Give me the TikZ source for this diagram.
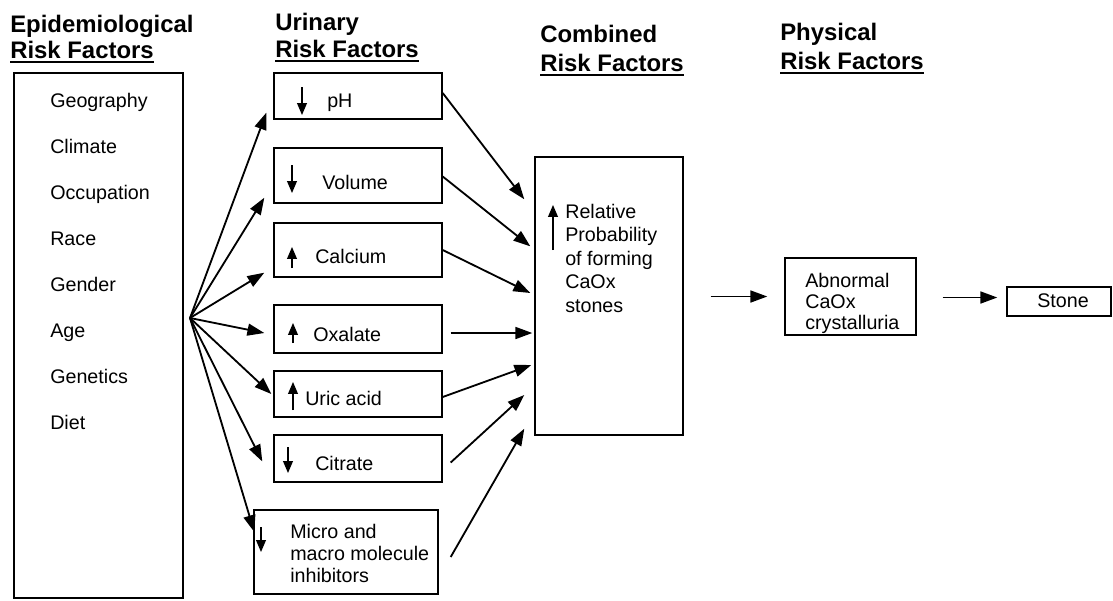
\documentclass[tikz,border=0pt]{standalone}
\usepackage{fontspec}
\setmainfont{Liberation Sans}
\usetikzlibrary{arrows.meta,positioning,fit,calc}

\newcommand\riskul[1]{\setbox0\hbox{#1}\rlap{\rule[-3.2pt]{\wd0}{1.4pt}}\box0}

\begin{document}
\begin{tikzpicture}[
  x=0.025cm,
  y=-0.025cm,
  every node/.style={font=\fontsize{14}{16}\selectfont, inner sep=0pt},
  hdr/.style={anchor=base west, font=\fontsize{17}{19}\selectfont\bfseries},
  item/.style={anchor=base west, align=left},
  riskbox/.style={draw, line width=1pt, inner sep=0pt},
  flow/.style={line width=1.3pt, -{Triangle[length=12pt,width=8.5pt]}},
  trend/.style={line width=1pt, -{Triangle[length=8.5pt,width=7pt]}}
]
\useasboundingbox (0,0) rectangle (1113,600);

% column headings
\node[hdr] (epiA) at (10,32) {Epidemiological};
\node[hdr] (epiB) at (10,58) {\riskul{Risk Factors}};
\node[hdr] (uriA) at (275,30) {Urinary};
\node[hdr] (uriB) at (275,57) {\riskul{Risk Factors}};
\node[hdr] (comA) at (540,42) {Combined};
\node[hdr] (comB) at (540,71) {\riskul{Risk Factors}};
\node[hdr] (phyA) at (780,40) {Physical};
\node[hdr] (phyB) at (780,69) {\riskul{Risk Factors}};

% epidemiological
\node[riskbox, fit={(14,73) (183,598)}] (epi) {};
\foreach \fac [count=\i] in {Geography,Climate,Occupation,Race,Gender,Age,Genetics,Diet}
  \node[item] (fac\i) at (50,{61+46*\i}) {\fac};
\coordinate (hub) at (190,318);

% urinary
\node[riskbox, fit={(274,73) (442,119)}] (ph) {};
\node[riskbox, fit={(274,148) (442,203)}] (vol) {};
\node[riskbox, fit={(274,223) (442,277)}] (cal) {};
\node[riskbox, fit={(274,305) (442,353)}] (oxa) {};
\node[riskbox, fit={(274,371) (442,417)}] (uric) {};
\node[riskbox, fit={(274,435) (442,482)}] (cit) {};
\node[riskbox, fit={(254,510) (438,594)}] (inh) {};

\node[item] (phT) at (327,107) {pH};
\node[item] (volT) at (322,189) {Volume};
\node[item] (calT) at (315,263) {Calcium};
\node[item] (oxaT) at (313,341) {Oxalate};
\node[item] (uricT) at (305,405) {Uric acid};
\node[item] (citT) at (315,470) {Citrate};
% multi-line: base is the last line
\node[item, font=\fontsize{14}{15.6}\selectfont] (inhT) at (290,582) {Micro and\\macro molecule\\inhibitors};

\draw[trend] (302,87) -- (302,115);
\draw[trend] (292,165) -- (292,193);
\draw[trend] (292,268) -- (292,247);
\draw[trend] (293,343) -- (293,323);
\draw[trend] (293,410) -- (293,382);
\draw[trend] (288,447) -- (288,473);
\draw[trend] (261,527) -- (261,552);

% combined and physical
\node[riskbox, fit={(535,157) (683,435)}] (comb) {};
\node[item, font=\fontsize{14}{16.7}\selectfont] (combT) at (565,312) {Relative\\Probability\\of forming\\CaOx\\stones};
\draw[trend] (553,250) -- (553,205);

\node[riskbox, fit={(785,258) (916,335)}] (abn) {};
\node[item, font=\fontsize{14}{14.6}\selectfont] (abnT) at (805,329) {Abnormal\\CaOx\\crystalluria};
\node[riskbox, fit={(1007,287) (1111,316)}] (stone) {};
\node[item] (stoneT) at (1037,307) {Stone};

% fan out
\draw[flow] (hub) -- ($(ph.south west)+(-7,-7)$);
\draw[flow] (hub) -- ($(vol.south west)+(-9,-6)$);
\draw[flow] (hub) -- ($(cal.south west)+(-9,-5)$);
\draw[flow] (hub) -- ($(oxa.west)+(-9,4)$);
\draw[flow] (hub) -- ($(uric.west)+(-2,0)$);
\draw[flow] (hub) -- ($(cit.west)+(-11,3)$);
\draw[flow] (hub) -- ($(inh.west)+(1,-20)$);

% into combined
\draw[flow] ($(ph.east)+(0,-3)$) -- ($(comb.north west)+(-10,43)$);
\draw[flow] ($(vol.east)+(0,1)$) -- ($(comb.north west)+(-4,90)$);
\draw[flow] (cal.east) -- ($(comb.west)+(-4,-3)$);
\draw[flow] ($(oxa.east)+(8,4)$) -- ($(comb.west)+(-2,37)$);
\draw[flow] ($(uric.east)+(0,3)$) -- ($(comb.west)+(-3,69)$);
\draw[flow] ($(cit.east)+(8,4)$) -- ($(comb.west)+(-10,99)$);
\draw[flow] ($(inh.east)+(12,5)$) -- ($(comb.south west)+(-10,-7)$);

% to stone
\draw[flow] ($(comb.east |- abn.west)+(27,0)$) -- ($(abn.west)+(-17,0)$);
\draw[flow] ($(abn.east)+(26,1)$) -- ($(stone.west |- abn.east)+(-9,1)$);
\end{tikzpicture}
\end{document}
